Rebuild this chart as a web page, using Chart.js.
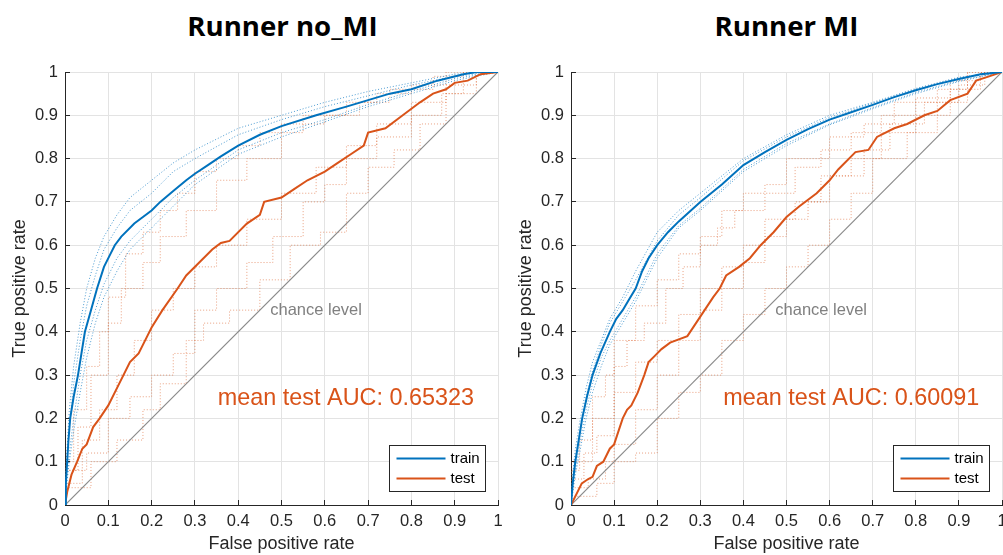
<!DOCTYPE html>
<html lang="en">

<head>
  <meta charset="UTF-8" />
  <script src="https://cdn.jsdelivr.net/npm/chart.js"></script>
  <title>ROC Runner</title>
  <style>
    body { margin: 0; background: #fff; width: 1003px; height: 555px; overflow: hidden; position: relative; }
    .titulo { position: absolute; top: 6px; text-align: center; font-family: "Open Sans", sans-serif; font-weight: 700; font-size: 27.6px; color: #000; white-space: nowrap; }
    canvas { position: absolute; top: 0; }
  </style>
</head>

<body>
  <div class="titulo" style="left:66px;width:433px">Runner no_MI</div>
  <div class="titulo" style="left:571px;width:431px">Runner MI</div>
  <canvas id="rocNoMI" width="503" height="555" style="left:0"></canvas>
  <canvas id="rocMI" width="500" height="555" style="left:503px"></canvas>

<script>
  // tick labels (both axes)
  const tickLabels = ['0', '0.1', '0.2', '0.3', '0.4', '0.5', '0.6', '0.7', '0.8', '0.9', '1'];
  const chance = [0, 1];
  // fpr grid shared by the train folds
  const foldFpr = [0, 0.003, 0.01, 0.02, 0.035, 0.05, 0.07, 0.09, 0.12, 0.15, 0.2, 0.25, 0.3, 0.4, 0.5, 0.6, 0.7, 0.8, 0.9, 1];

  // ---- Runner no_MI ----
  const noMiTrainFpr = [0, 0.002, 0.005, 0.008, 0.012, 0.02, 0.03, 0.038, 0.046, 0.06, 0.074, 0.09, 0.105, 0.115, 0.13, 0.16, 0.18, 0.2, 0.22, 0.25, 0.28, 0.3, 0.33, 0.36, 0.4, 0.45, 0.5, 0.58, 0.65, 0.75, 0.8, 0.86, 0.92, 0.95, 1];
  const noMiTrainTpr = [0, 0.05, 0.1, 0.15, 0.2, 0.25, 0.3, 0.35, 0.4, 0.45, 0.5, 0.55, 0.58, 0.6, 0.62, 0.65, 0.665, 0.68, 0.7, 0.725, 0.75, 0.765, 0.785, 0.805, 0.83, 0.855, 0.875, 0.9, 0.92, 0.95, 0.96, 0.98, 0.995, 1, 1];
  const noMiTestFpr = [0, 0.005, 0.015, 0.028, 0.04, 0.05, 0.065, 0.08, 0.1, 0.12, 0.135, 0.15, 0.17, 0.19, 0.2, 0.225, 0.26, 0.28, 0.31, 0.34, 0.36, 0.38, 0.42, 0.45, 0.46, 0.5, 0.53, 0.56, 0.6, 0.63, 0.66, 0.69, 0.7, 0.74, 0.78, 0.82, 0.85, 0.88, 0.9, 0.93, 0.96, 1];
  const noMiTestTpr = [0, 0.03, 0.07, 0.1, 0.13, 0.14, 0.18, 0.2, 0.23, 0.27, 0.3, 0.33, 0.35, 0.39, 0.41, 0.45, 0.5, 0.53, 0.56, 0.59, 0.605, 0.61, 0.65, 0.67, 0.7, 0.71, 0.73, 0.75, 0.77, 0.79, 0.81, 0.83, 0.86, 0.87, 0.9, 0.93, 0.95, 0.96, 0.975, 0.98, 0.995, 1];
  const noMiTrainFoldsTpr = [
    [0, 0.1, 0.22, 0.32, 0.42, 0.5, 0.57, 0.62, 0.67, 0.71, 0.75, 0.79, 0.82, 0.87, 0.9, 0.93, 0.955, 0.975, 0.995, 1],
    [0, 0.08, 0.18, 0.28, 0.38, 0.46, 0.53, 0.59, 0.64, 0.68, 0.72, 0.77, 0.8, 0.855, 0.89, 0.92, 0.945, 0.97, 0.99, 1],
    [0, 0.05, 0.12, 0.2, 0.3, 0.38, 0.45, 0.51, 0.57, 0.61, 0.66, 0.71, 0.75, 0.82, 0.86, 0.89, 0.925, 0.955, 0.985, 1],
    [0, 0.04, 0.1, 0.17, 0.26, 0.34, 0.42, 0.48, 0.54, 0.59, 0.64, 0.69, 0.74, 0.81, 0.85, 0.885, 0.92, 0.95, 0.98, 1]
  ];
  const noMiTestFoldsFpr = [
    [0, 0.02, 0.05, 0.08, 0.1, 0.14, 0.18, 0.22, 0.26, 0.3, 0.35, 0.4, 0.45, 0.55, 0.6, 0.68, 0.75, 0.85, 0.92, 1],
    [0, 0.03, 0.06, 0.1, 0.13, 0.18, 0.22, 0.28, 0.35, 0.42, 0.5, 0.55, 0.65, 0.72, 0.8, 0.88, 0.95, 1],
    [0, 0.04, 0.08, 0.12, 0.16, 0.2, 0.25, 0.3, 0.35, 0.42, 0.5, 0.58, 0.65, 0.72, 0.8, 0.88, 0.95, 1],
    [0, 0.06, 0.12, 0.18, 0.22, 0.28, 0.32, 0.38, 0.45, 0.52, 0.59, 0.65, 0.7, 0.76, 0.82, 0.88, 0.95, 1],
    [0, 0.05, 0.1, 0.15, 0.2, 0.25, 0.3, 0.35, 0.42, 0.48, 0.55, 0.6, 0.65, 0.72, 0.8, 0.87, 0.92, 1]
  ];
  const noMiTestFoldsTpr = [
    [0, 0.1, 0.22, 0.32, 0.4, 0.48, 0.58, 0.63, 0.68, 0.72, 0.77, 0.8, 0.83, 0.86, 0.88, 0.9, 0.93, 0.96, 0.99, 1],
    [0, 0.08, 0.18, 0.3, 0.42, 0.5, 0.56, 0.62, 0.68, 0.75, 0.8, 0.88, 0.9, 0.93, 0.95, 0.97, 1, 1],
    [0, 0.05, 0.15, 0.22, 0.3, 0.38, 0.45, 0.5, 0.55, 0.6, 0.66, 0.72, 0.78, 0.83, 0.88, 0.93, 0.97, 1],
    [0, 0.04, 0.1, 0.15, 0.22, 0.28, 0.38, 0.42, 0.45, 0.52, 0.6, 0.63, 0.72, 0.78, 0.82, 0.88, 0.95, 1],
    [0, 0.08, 0.12, 0.2, 0.25, 0.3, 0.35, 0.45, 0.5, 0.56, 0.62, 0.7, 0.74, 0.8, 0.85, 0.9, 0.95, 1]
  ];

  // ---- Runner MI ----
  const miTrainFpr = [0, 0.004, 0.01, 0.018, 0.026, 0.037, 0.05, 0.068, 0.09, 0.105, 0.12, 0.135, 0.15, 0.165, 0.18, 0.2, 0.225, 0.25, 0.3, 0.35, 0.4, 0.45, 0.5, 0.55, 0.6, 0.65, 0.7, 0.75, 0.8, 0.85, 0.9, 0.95, 1];
  const miTrainTpr = [0, 0.05, 0.1, 0.15, 0.2, 0.25, 0.3, 0.35, 0.4, 0.43, 0.45, 0.475, 0.5, 0.54, 0.57, 0.6, 0.63, 0.655, 0.7, 0.74, 0.785, 0.815, 0.843, 0.868, 0.89, 0.907, 0.924, 0.942, 0.958, 0.972, 0.984, 0.995, 1];
  const miTestFpr = [0, 0.01, 0.025, 0.04, 0.05, 0.06, 0.075, 0.09, 0.1, 0.11, 0.12, 0.13, 0.14, 0.155, 0.17, 0.18, 0.195, 0.21, 0.23, 0.27, 0.29, 0.31, 0.33, 0.345, 0.36, 0.39, 0.415, 0.44, 0.47, 0.5, 0.53, 0.57, 0.6, 0.62, 0.66, 0.69, 0.71, 0.75, 0.78, 0.82, 0.85, 0.88, 0.92, 0.94, 0.97, 1];
  const miTestTpr = [0, 0.02, 0.05, 0.06, 0.065, 0.09, 0.1, 0.13, 0.14, 0.17, 0.2, 0.22, 0.23, 0.26, 0.3, 0.33, 0.345, 0.36, 0.375, 0.39, 0.42, 0.45, 0.48, 0.5, 0.53, 0.55, 0.57, 0.6, 0.63, 0.665, 0.69, 0.72, 0.75, 0.775, 0.815, 0.82, 0.85, 0.87, 0.88, 0.9, 0.91, 0.935, 0.95, 0.98, 0.99, 1];
  const miTrainFoldsTpr = [
    [0, 0.06, 0.13, 0.19, 0.27, 0.33, 0.38, 0.43, 0.48, 0.54, 0.63, 0.68, 0.72, 0.8, 0.855, 0.9, 0.93, 0.962, 0.988, 1],
    [0, 0.03, 0.08, 0.14, 0.22, 0.28, 0.34, 0.38, 0.43, 0.48, 0.58, 0.645, 0.685, 0.775, 0.835, 0.88, 0.918, 0.953, 0.98, 1],
    [0, 0.05, 0.11, 0.17, 0.25, 0.31, 0.37, 0.42, 0.47, 0.52, 0.61, 0.67, 0.71, 0.795, 0.85, 0.895, 0.928, 0.96, 0.986, 1],
    [0, 0.02, 0.07, 0.12, 0.2, 0.26, 0.32, 0.37, 0.42, 0.47, 0.57, 0.64, 0.68, 0.77, 0.83, 0.878, 0.915, 0.95, 0.978, 1]
  ];
  const miTestFoldsFpr = [
    [0, 0.02, 0.05, 0.08, 0.1, 0.15, 0.2, 0.25, 0.3, 0.35, 0.4, 0.45, 0.5, 0.6, 0.68, 0.75, 0.85, 0.92, 1],
    [0, 0.05, 0.1, 0.13, 0.17, 0.22, 0.26, 0.3, 0.34, 0.38, 0.45, 0.52, 0.58, 0.65, 0.72, 0.8, 0.88, 0.95, 1],
    [0, 0.04, 0.08, 0.1, 0.15, 0.2, 0.25, 0.3, 0.35, 0.4, 0.45, 0.5, 0.55, 0.6, 0.68, 0.74, 0.82, 0.9, 0.96, 1],
    [0, 0.06, 0.1, 0.15, 0.2, 0.25, 0.3, 0.35, 0.4, 0.45, 0.5, 0.55, 0.6, 0.65, 0.7, 0.78, 0.85, 0.92, 1],
    [0, 0.03, 0.06, 0.1, 0.15, 0.2, 0.25, 0.3, 0.35, 0.4, 0.45, 0.52, 0.58, 0.65, 0.72, 0.8, 0.88, 0.95, 1]
  ];
  const miTestFoldsTpr = [
    [0, 0.08, 0.15, 0.25, 0.3, 0.38, 0.46, 0.52, 0.58, 0.62, 0.68, 0.72, 0.74, 0.8, 0.85, 0.88, 0.93, 0.96, 1],
    [0, 0.1, 0.2, 0.32, 0.38, 0.42, 0.5, 0.55, 0.6, 0.64, 0.68, 0.72, 0.78, 0.82, 0.86, 0.9, 0.94, 0.98, 1],
    [0, 0.04, 0.06, 0.1, 0.14, 0.22, 0.3, 0.38, 0.45, 0.5, 0.56, 0.62, 0.66, 0.7, 0.76, 0.82, 0.88, 0.93, 0.97, 1],
    [0, 0.02, 0.05, 0.1, 0.12, 0.2, 0.26, 0.3, 0.38, 0.44, 0.5, 0.55, 0.6, 0.66, 0.72, 0.8, 0.86, 0.93, 1],
    [0, 0.06, 0.12, 0.16, 0.26, 0.33, 0.38, 0.44, 0.5, 0.55, 0.6, 0.66, 0.7, 0.76, 0.8, 0.86, 0.9, 0.96, 1]
  ];

  const azul = "#0072BD";
  const laranja = "#D95319";
  const cinza = "#262626";

  function pontos(xs, ys) {
    return xs.map((x, i) => ({ x: x, y: ys[i] }));
  }

  // legenda e textos dentro do eixo
  const extras = {
    id: "extras",
    afterDatasetsDraw(chart, args, opts) {
      const ctx = chart.ctx;
      const area = chart.chartArea;
      const sx = chart.scales.x;
      const sy = chart.scales.y;
      ctx.save();
      ctx.textBaseline = "middle";
      ctx.textAlign = "left";
      ctx.font = "16.5px 'Liberation Sans', Arial, sans-serif";
      ctx.fillStyle = "#808080";
      ctx.fillText("chance level", sx.getPixelForValue(opts.chanceX), sy.getPixelForValue(opts.chanceY));
      ctx.font = "23.4px 'Liberation Sans', Arial, sans-serif";
      ctx.fillStyle = laranja;
      ctx.fillText(opts.auc, sx.getPixelForValue(opts.aucX), sy.getPixelForValue(opts.aucY));

      // caixa da legenda
      const w = 96, h = 46;
      const bx = Math.round(area.right - 13 - w) + 0.5;
      const by = Math.round(area.bottom - 14 - h) + 0.5;
      ctx.fillStyle = "#fff";
      ctx.fillRect(bx, by, w, h);
      ctx.strokeStyle = cinza;
      ctx.lineWidth = 1;
      ctx.strokeRect(bx, by, w, h);
      const itens = [["train", azul], ["test", laranja]];
      ctx.font = "15px 'Liberation Sans', Arial, sans-serif";
      itens.forEach((it, i) => {
        const yy = by + 13 + i * 20;
        ctx.strokeStyle = it[1];
        ctx.lineWidth = 2;
        ctx.beginPath();
        ctx.moveTo(bx + 7, yy);
        ctx.lineTo(bx + 56, yy);
        ctx.stroke();
        ctx.fillStyle = "#000";
        ctx.fillText(it[0], bx + 61, yy);
      });
      ctx.restore();
    }
  };

  function plotar(id, trainFpr, trainTpr, testFpr, testTpr, trFoldsY, teFoldsX, teFoldsY, auc, eixoLargura, padDireita) {
    const datasets = [];

    datasets.push({ label: "train", data: pontos(trainFpr, trainTpr), borderColor: azul, borderWidth: 2, order: 0 });
    datasets.push({ label: "test", data: pontos(testFpr, testTpr), borderColor: laranja, borderWidth: 2, order: 1 });
    datasets.push({ label: "chance", data: pontos(chance, chance), borderColor: "#8a8a8a", borderWidth: 1.2, order: 2 });

    for (let i = 0; i < trFoldsY.length; i++) {
      datasets.push({
        label: "trainFold" + i, data: pontos(foldFpr, trFoldsY[i]),
        borderColor: "rgba(0,114,189,0.7)", borderWidth: 1, borderDash: [1, 2], order: 3
      });
    }
    for (let i = 0; i < teFoldsX.length; i++) {
      datasets.push({
        label: "testFold" + i, data: pontos(teFoldsX[i], teFoldsY[i]),
        borderColor: "rgba(217,83,25,0.55)", borderWidth: 1, borderDash: [1, 2], stepped: "after", order: 4
      });
    }

    const fonteTick = { family: "'Liberation Sans', Arial, sans-serif", size: 16.5 };
    const fonteTitulo = { family: "'Liberation Sans', Arial, sans-serif", size: 18 };

    const config = {
      type: "line",
      data: { datasets: datasets },
      options: {
        responsive: false,
        animation: false,
        events: [],
        elements: { point: { radius: 0 }, line: { tension: 0 } },
        layout: { padding: { top: 72, right: padDireita, left: 0, bottom: 0 } },
        scales: {
          x: {
            type: "linear",
            min: 0,
            max: 1,
            afterFit: (s) => { s.height = 50; s.paddingLeft = 0; s.paddingRight = 0; },
            grid: { color: "#e3e3e3", tickColor: cinza, tickLength: -5 },
            border: { color: cinza, width: 1 },
            ticks: {
              stepSize: 0.1, autoSkip: false, maxRotation: 0, color: cinza, font: fonteTick, padding: 12,
              callback: (v, i) => tickLabels[i]
            },
            title: { display: true, text: "False positive rate", color: cinza, font: fonteTitulo, padding: { top: 0, bottom: 0 } }
          },
          y: {
            type: "linear",
            min: 0,
            max: 1,
            afterFit: (s) => { s.width = eixoLargura; s.paddingTop = 0; s.paddingBottom = 0; },
            grid: { color: "#e3e3e3", tickColor: cinza, tickLength: -5 },
            border: { color: cinza, width: 1 },
            ticks: {
              stepSize: 0.1, autoSkip: false, color: cinza, font: fonteTick, padding: 12,
              callback: (v, i) => tickLabels[i]
            },
            title: { display: true, text: "True positive rate", color: cinza, font: fonteTitulo, padding: { top: eixoLargura - 56, bottom: 0 } }
          }
        },
        plugins: {
          legend: { display: false },
          tooltip: { enabled: false },
          extras: { auc: auc, chanceX: 0.474, chanceY: 0.45, aucX: 0.353, aucY: 0.245 }
        }
      },
      plugins: [extras]
    };

    return new Chart(document.getElementById(id).getContext("2d"), config);
  }

  plotar("rocNoMI", noMiTrainFpr, noMiTrainTpr, noMiTestFpr, noMiTestTpr,
    noMiTrainFoldsTpr, noMiTestFoldsFpr, noMiTestFoldsTpr,
    "mean test AUC: 0.65323", 65, 5);
  plotar("rocMI", miTrainFpr, miTrainTpr, miTestFpr, miTestTpr,
    miTrainFoldsTpr, miTestFoldsFpr, miTestFoldsTpr,
    "mean test AUC: 0.60091", 68, 1);
</script>
</body>

</html>
